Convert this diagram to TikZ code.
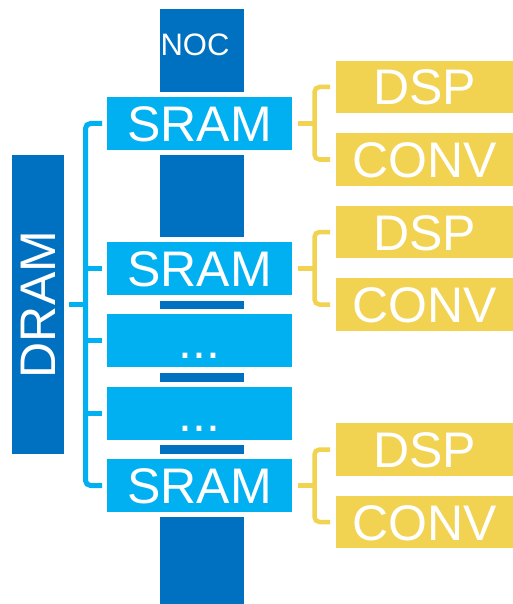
\documentclass[tikz,border=0pt]{standalone}
\usepackage{fontspec}
\setmainfont{Liberation Sans}
\definecolor{nocblue}{HTML}{0070C0}
\definecolor{sramblue}{HTML}{00B0F0}
\definecolor{unitgold}{HTML}{F1D351}
\tikzset{
  blk/.style={draw=none, inner sep=0pt, outer sep=0pt, text=white,
    font=\fontsize{50}{60}\selectfont},
  nocseg/.style={blk, fill=nocblue, minimum width=84pt},
  capbox/.style={blk, text height=36pt, text depth=0pt},
  srambox/.style={capbox, fill=sramblue, minimum width=185pt, minimum height=53pt},
  unitbox/.style={capbox, fill=unitgold, minimum width=177pt, minimum height=52.5pt},
  bus/.style={draw=sramblue, line width=5pt, rounded corners=5pt},
  ubus/.style={draw=unitgold, line width=4.5pt, rounded corners=5pt},
}
\begin{document}
\begin{tikzpicture}[x=1pt, y=-1pt]
\useasboundingbox (0,0) rectangle (513,604);

% NOC column segments
\node[nocseg, minimum height=83pt,
  label={[text=white, font=\fontsize{31}{36}\selectfont, xshift=-7pt, yshift=6pt]center:NOC}]
  (noc1) at (202,50.5) {};
\node[nocseg, minimum height=82pt] (noc2) at (202,196) {};
\node[nocseg, minimum height=8.5pt] (bar1) at (202,305) {};
\node[nocseg, minimum height=8.5pt] (bar2) at (202,377.5) {};
\node[nocseg, minimum height=8.5pt] (bar3) at (202,449.5) {};
\node[nocseg, minimum height=87pt] (noc3) at (202,560.5) {};

% SRAM banks
\node[srambox] (sram1) at (199.5,123.5) {SRAM};
\node[srambox] (sram2) at (199.5,268.5) {SRAM};
\node[srambox] (dots1) at (199.5,340.5) {...};
\node[srambox] (dots2) at (199.5,413.5) {...};
\node[srambox] (sram3) at (199.5,485.5) {SRAM};

% DRAM
\node[nocseg, minimum width=52pt, minimum height=299pt]
  (dram) at (38,304.5) {\rotatebox{90}{DRAM}};

% compute units
\node[unitbox] (dsp1) at (424.5,87) {DSP};
\node[unitbox] (conv1) at (424.5,159.5) {CONV};
\node[unitbox] (dsp2) at (424.5,232) {DSP};
\node[unitbox] (conv2) at (424.5,304.5) {CONV};
\node[unitbox] (dsp3) at (424.5,449.5) {DSP};
\node[unitbox] (conv3) at (424.5,522) {CONV};

% DRAM to SRAM bus
\draw[bus] ([xshift=-5pt]sram1.west) -| ([xshift=-21.5pt]sram3.west) -- ([xshift=-5pt]sram3.west);
\draw[bus] ([xshift=-5pt]sram2.west) -- ++(-16.5,0);
\draw[bus] ([xshift=-5pt]dots1.west) -- ++(-16.5,0);
\draw[bus] ([xshift=-5pt]dots2.west) -- ++(-16.5,0);
\draw[bus] ([xshift=5pt]dram.east) -- ++(16.5,0);

% SRAM to compute units
\draw[ubus] ([xshift=-6pt]dsp1.west) -| ([xshift=-21.5pt]conv1.west) -- ([xshift=-6pt]conv1.west);
\draw[ubus] ([xshift=6pt]sram1.east) -- ++(16.5,0);
\draw[ubus] ([xshift=-6pt]dsp2.west) -| ([xshift=-21.5pt]conv2.west) -- ([xshift=-6pt]conv2.west);
\draw[ubus] ([xshift=6pt]sram2.east) -- ++(16.5,0);
\draw[ubus] ([xshift=-6pt]dsp3.west) -| ([xshift=-21.5pt]conv3.west) -- ([xshift=-6pt]conv3.west);
\draw[ubus] ([xshift=6pt]sram3.east) -- ++(16.5,0);
\end{tikzpicture}
\end{document}
